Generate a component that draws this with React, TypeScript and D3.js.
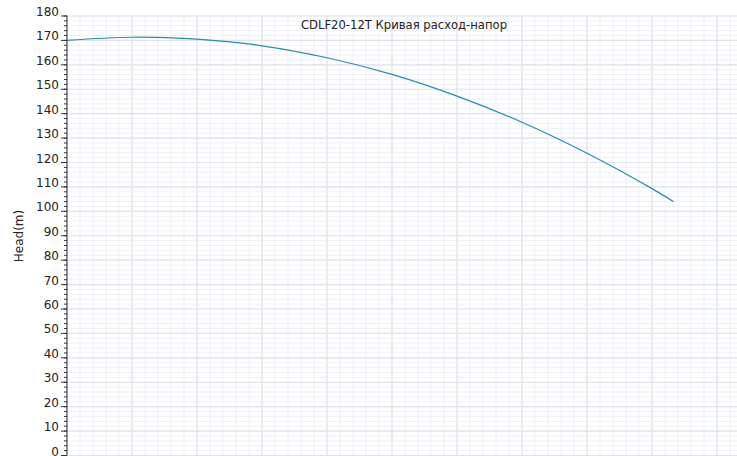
import React from "react";
import * as d3 from "d3";

const title = "CDLF20-12T Кривая расход-напор";
const yLabel = "Head(m)";
const flow = [0, 3, 6, 9, 12, 15, 18, 21, 24, 27, 28];
const head = [170.0, 171.3, 170.5, 167.8, 162.9, 156.1, 147.2, 136.5, 123.8, 109.3, 103.9];
const yTicks = d3.range(0, 181, 10);

const W = 737, H = 456;
const left = 67, right = 737, top = 16, bottom = 455.5;

export default function App() {
  const x = d3.scaleLinear().domain([0, ((right - left) / 65) * 3]).range([left, right]);
  const y = d3.scaleLinear().domain([0, 180]).range([bottom, top]);
  const xMajor = d3.range(0, x.domain()[1] + 0.001, 3);
  const xMinor = d3.range(0, x.domain()[1] + 0.001, 0.6);
  const yMinor = d3.range(0, 181, 2);
  const line = d3.line<number>().x((_, i) => x(flow[i])).y((d) => y(d)).curve(d3.curveCatmullRom.alpha(0.5));
  const font = "DejaVu Sans, sans-serif";
  return (
    <svg width={W} height={H} style={{ position: "absolute", left: 0, top: 0, background: "#fff" }}>
      <g>
        {xMinor.map((v, i) => (
          <line key={"xm" + i} x1={x(v)} x2={x(v)} y1={top} y2={bottom} stroke="#eff1f8" strokeWidth={1} />
        ))}
        {yMinor.map((v, i) => (
          <line key={"ym" + i} x1={left} x2={right} y1={y(v)} y2={y(v)} stroke="#eff1f8" strokeWidth={1} />
        ))}
        {xMajor.map((v, i) => (
          <line key={"xM" + i} x1={x(v)} x2={x(v)} y1={top} y2={bottom} stroke="#e0e4f0" strokeWidth={1.2} />
        ))}
        {yTicks.map((v, i) => (
          <line key={"yM" + i} x1={left} x2={right} y1={y(v)} y2={y(v)} stroke="#e0e4f0" strokeWidth={1.2} />
        ))}
      </g>
      <path d={line(head) || ""} fill="none" stroke="#2b8ca6" strokeWidth={1.2} />
      <line x1={left} x2={left} y1={top} y2={bottom} stroke="#333" strokeWidth={1} />
      {yMinor.map((v, i) => (
        <line key={"tm" + i} x1={left - 3} x2={left} y1={y(v)} y2={y(v)} stroke="#333" strokeWidth={1} />
      ))}
      {yTicks.map((v, i) => (
        <g key={"t" + i}>
          <line x1={left - 6} x2={left} y1={y(v)} y2={y(v)} stroke="#333" strokeWidth={1} />
          <text x={left - 8} y={y(v)} textAnchor="end" fontFamily={font} fontSize={12} fill="#222">
            {v}
          </text>
        </g>
      ))}
      <text
        transform={`translate(23,236) rotate(-90)`}
        textAnchor="middle"
        fontFamily={font}
        fontSize={12}
        fill="#222"
      >
        {yLabel}
      </text>
      <text x={404} y={29} textAnchor="middle" fontFamily={font} fontSize={11.6} fill="#222">
        {title}
      </text>
    </svg>
  );
}
